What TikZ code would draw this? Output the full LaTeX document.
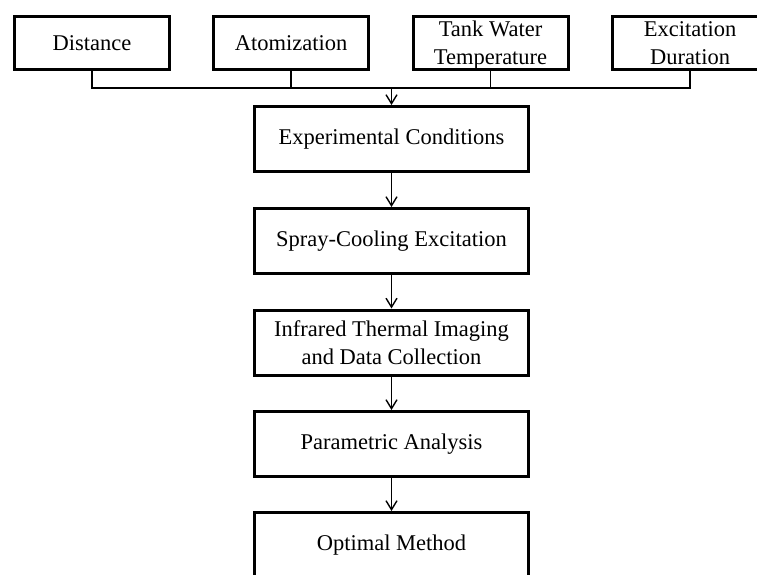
\documentclass[tikz,border=0pt]{standalone}
\usepackage{fontspec}
\setmainfont{Liberation Serif}
\usetikzlibrary{arrows.meta}
\begin{document}
\begin{tikzpicture}[x=1pt,y=-1pt,
  topbox/.style={draw, line width=3pt, minimum width=155pt, minimum height=53pt, inner sep=0pt, align=center, font=\fontsize{22.5}{28}\selectfont},
  toptwo/.style={topbox, text height=48pt, text depth=5pt},
  mainbox/.style={draw, line width=3pt, minimum width=274pt, minimum height=65pt, inner sep=0pt, align=center, font=\fontsize{22.5}{28}\selectfont},
  conn/.style={line width=1.4pt},
  arr/.style={line width=1.4pt, -{Straight Barb[length=9pt,width=11pt,line width=1.4pt]}}]
\useasboundingbox (0,0) rectangle (757,574);
\fill[white] (0,0) rectangle (757,574);
\node[topbox] (dist) at (92,43) {Distance};
\node[topbox] (atom) at (291,43) {Atomization};
\node[toptwo] (tank) at (490.5,43) {Tank Water\\Temperature};
\node[toptwo] (exd) at (690,43) {Excitation\\Duration};
\node[mainbox] (exp) at (391.5,139) {Experimental Conditions};
\node[mainbox] (spray) at (391.5,241) {Spray-Cooling Excitation};
\node[mainbox] (ir) at (391.5,342.5) {Infrared Thermal Imaging\\and Data Collection};
\node[mainbox] (par) at (391.5,444) {Parametric Analysis};
\node[mainbox] (opt) at (391.5,545) {Optimal Method};
\coordinate (j) at (391.5,88);
\draw[conn] (dist.south) |- (j);
\draw[conn] (atom.south) |- (j);
\draw[conn] (tank.south) |- (j);
\draw[conn] (exd.south) |- (j);
\draw[arr] (j) -- (exp.north);
\draw[arr] (exp.south) -- (spray.north);
\draw[arr] (spray.south) -- (ir.north);
\draw[arr] (ir.south) -- (par.north);
\draw[arr] (par.south) -- (opt.north);
\end{tikzpicture}
\end{document}
